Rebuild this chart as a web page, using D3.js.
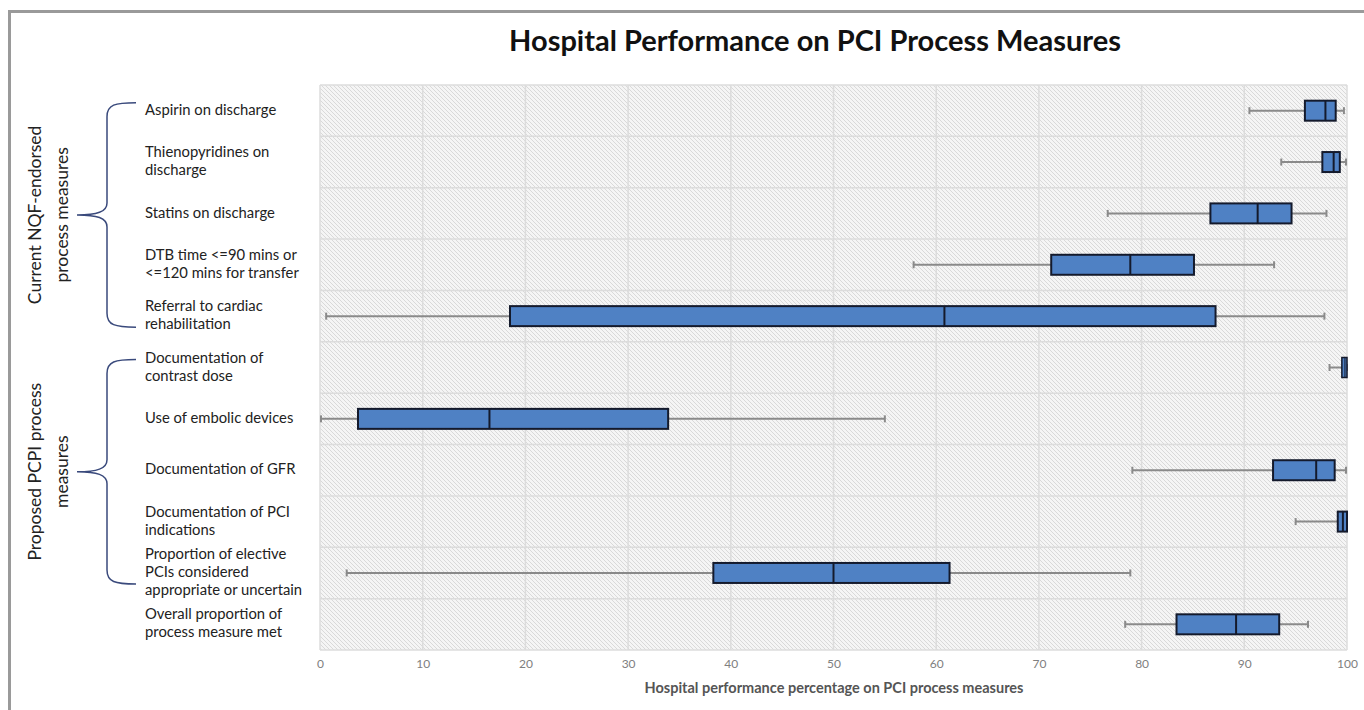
<!DOCTYPE html>
<html>
<head>
<meta charset="utf-8">
<script src="https://cdn.jsdelivr.net/npm/d3@7"></script>
<style>
  body { margin: 0; background: #fff; }
  text { font-family: Lato, "Open Sans", sans-serif; }
</style>
</head>
<body>
<script>
// measures, top to bottom
const measures = [
    "Aspirin on discharge",
    "Thienopyridines on\ndischarge",
    "Statins on discharge",
    "DTB time <=90 mins or\n<=120 mins for transfer",
    "Referral to cardiac\nrehabilitation",
    "Documentation of\ncontrast dose",
    "Use of embolic devices",
    "Documentation of GFR",
    "Documentation of PCI\nindications",
    "Proportion of elective\nPCIs considered\nappropriate or uncertain",
    "Overall proportion of\nprocess measure met"
];

// box plot values (%)
const whiskerLow  = [90.5, 93.6, 76.7, 57.8, 0.6, 98.3, 0.1, 79.1, 95.0, 2.6, 78.4];
const q1          = [95.9, 97.6, 86.7, 71.2, 18.5, 99.5, 3.7, 92.8, 99.1, 38.3, 83.4];
const median      = [97.9, 98.7, 91.3, 78.9, 60.8, 99.8, 16.5, 97.0, 99.6, 50.0, 89.2];
const q3          = [98.9, 99.3, 94.6, 85.1, 87.2, 100, 33.9, 98.8, 100, 61.3, 93.4];
const whiskerHigh = [99.7, 99.9, 98.0, 92.9, 97.8, 100, 55.0, 99.9, 100, 78.9, 96.2];

const groupNames = ["Current NQF-endorsed\nprocess measures", "Proposed PCPI process\nmeasures"];
const groupFirst = [0, 5];
const groupLast = [4, 9];

const xTicks = [0, 10, 20, 30, 40, 50, 60, 70, 80, 90, 100];

const width = 1364, height = 710;
const plot = { left: 320, right: 1347, top: 85, bottom: 650 };

const svg = d3.select('body')
    .append('svg')
    .attr("width", width)
    .attr("height", height);

// hatch background
const defs = svg.append('defs');
const pat = defs.append('pattern')
    .attr('id', 'hatch')
    .attr('width', 4)
    .attr('height', 4)
    .attr('patternUnits', 'userSpaceOnUse');
pat.append('rect').attr('width', 4).attr('height', 4).attr('fill', '#f5f5f5');
pat.append('path')
    .attr('d', 'M0,0 L4,4 M-1,3 L1,5 M3,-1 L5,1')
    .attr('stroke', '#d9d9d9')
    .attr('stroke-width', 1);

// outer frame
svg.append('path')
    .attr('d', `M9.5,${height} L9.5,11.5 L${width},11.5`)
    .attr('fill', 'none')
    .attr('stroke', '#9a9a9a')
    .attr('stroke-width', 3);

const x = d3.scaleLinear().domain([0, 100]).range([plot.left, plot.right]);
const y = d3.scaleBand().domain(d3.range(measures.length)).range([plot.top, plot.bottom]);

svg.append('rect')
    .attr('x', plot.left)
    .attr('y', plot.top)
    .attr('width', plot.right - plot.left)
    .attr('height', plot.bottom - plot.top)
    .attr('fill', 'url(#hatch)');

const grid_g = svg.append('g');
grid_g.selectAll('.vgrid')
    .data(xTicks)
    .enter().append('line')
    .attr('class', 'vgrid')
    .attr('x1', d => x(d)).attr('x2', d => x(d))
    .attr('y1', plot.top).attr('y2', plot.bottom)
    .attr('stroke', '#dcdcdc')
    .attr('stroke-width', 1.5);
grid_g.selectAll('.hgrid')
    .data(d3.range(measures.length + 1))
    .enter().append('line')
    .attr('class', 'hgrid')
    .attr('x1', plot.left).attr('x2', plot.right)
    .attr('y1', d => plot.top + d * y.step())
    .attr('y2', d => plot.top + d * y.step())
    .attr('stroke', '#dcdcdc')
    .attr('stroke-width', 1.5);

// title
svg.append('text')
    .attr('x', 815)
    .attr('y', 51)
    .attr('text-anchor', 'middle')
    .attr('font-size', 29)
    .attr('font-weight', 'bold')
    .attr('fill', '#111')
    .text('Hospital Performance on PCI Process Measures');

// x axis
const xAxis = d3.axisBottom(x).tickValues(xTicks).tickSize(0).tickPadding(9);
const axis_g = svg.append('g')
    .attr('transform', `translate(0,${plot.bottom})`)
    .call(xAxis);
axis_g.select('.domain').remove();
axis_g.selectAll('text')
    .attr('font-family', 'Lato, sans-serif')
    .attr('font-size', 12)
    .attr('fill', '#808080');

svg.append('text')
    .attr('x', 834)
    .attr('y', 693)
    .attr('text-anchor', 'middle')
    .attr('font-size', 14.5)
    .attr('font-weight', 'bold')
    .attr('fill', '#555')
    .text('Hospital performance percentage on PCI process measures');

// box plots
const rows = d3.range(measures.length);
const box_g = svg.append('g');
const boxH = 20, capH = 7;
const cy = i => y(i) + y.bandwidth() / 2;

box_g.selectAll('.whisker')
    .data(rows)
    .enter().append('line')
    .attr('class', 'whisker')
    .attr('x1', i => x(whiskerLow[i]))
    .attr('x2', i => x(whiskerHigh[i]))
    .attr('y1', cy).attr('y2', cy)
    .attr('stroke', '#8a8a8a')
    .attr('stroke-width', 2);

[whiskerLow, whiskerHigh].forEach(arr => {
    box_g.selectAll(null)
        .data(rows)
        .enter().append('line')
        .attr('x1', i => x(arr[i])).attr('x2', i => x(arr[i]))
        .attr('y1', i => cy(i) - capH / 2)
        .attr('y2', i => cy(i) + capH / 2)
        .attr('stroke', '#8a8a8a')
        .attr('stroke-width', 2);
});

box_g.selectAll('.box')
    .data(rows)
    .enter().append('rect')
    .attr('class', 'box')
    .attr('x', i => x(q1[i]))
    .attr('y', i => cy(i) - boxH / 2)
    .attr('width', i => Math.max(x(q3[i]) - x(q1[i]), 1))
    .attr('height', boxH)
    .attr('fill', '#4f81c4')
    .attr('stroke', '#141a2c')
    .attr('stroke-width', i => (x(q3[i]) - x(q1[i]) < 8 ? 1.5 : 2));

box_g.selectAll('.median')
    .data(rows)
    .enter().append('line')
    .attr('class', 'median')
    .attr('x1', i => x(median[i])).attr('x2', i => x(median[i]))
    .attr('y1', i => cy(i) - boxH / 2)
    .attr('y2', i => cy(i) + boxH / 2)
    .attr('stroke', '#141a2c')
    .attr('stroke-width', i => (x(q3[i]) - x(q1[i]) < 8 ? 1 : 2));

// category labels
const lineH = 18;
const label_g = svg.append('g');
label_g.selectAll('.cat')
    .data(rows)
    .enter().append('text')
    .attr('class', 'cat')
    .attr('x', 145)
    .attr('font-size', 14.8)
    .attr('fill', '#222')
    .each(function (i) {
        const lines = measures[i].split('\n');
        const y0 = cy(i) - 1 - (lines.length - 1) * lineH / 2;
        d3.select(this).selectAll('tspan')
            .data(lines)
            .enter().append('tspan')
            .attr('x', 145)
            .attr('y', (d, k) => y0 + k * lineH)
            .attr('dy', '0.35em')
            .text(d => d);
    });

// group braces and labels
groupNames.forEach((name, g) => {
    const top = cy(groupFirst[g]) - 8;
    const bot = cy(groupLast[g]) + 11;
    const mid = (top + bot) / 2;
    const xv = 107, xe = 136, xt = 77;
    svg.append('path')
        .attr('d', `M${xe},${top} C${xv + 8},${top} ${xv},${top + 2} ${xv},${top + 14}
            L${xv},${mid - 12} C${xv},${mid - 3} ${xv - 10},${mid} ${xt},${mid}
            C${xv - 10},${mid} ${xv},${mid + 3} ${xv},${mid + 12}
            L${xv},${bot - 14} C${xv},${bot - 2} ${xv + 8},${bot} ${xe},${bot}`)
        .attr('fill', 'none')
        .attr('stroke', '#3a4a7c')
        .attr('stroke-width', 1.5);

    const lines = name.split('\n');
    svg.append('text')
        .attr('transform', `translate(0,${mid}) rotate(-90)`)
        .attr('text-anchor', 'middle')
        .attr('font-size', 17.5)
        .attr('fill', '#222')
        .selectAll('tspan')
        .data(lines)
        .enter().append('tspan')
        .attr('x', 0)
        .attr('y', (d, k) => 35 + k * 27)
        .attr('dy', '0.35em')
        .text(d => d);
});
</script>
</body>
</html>
